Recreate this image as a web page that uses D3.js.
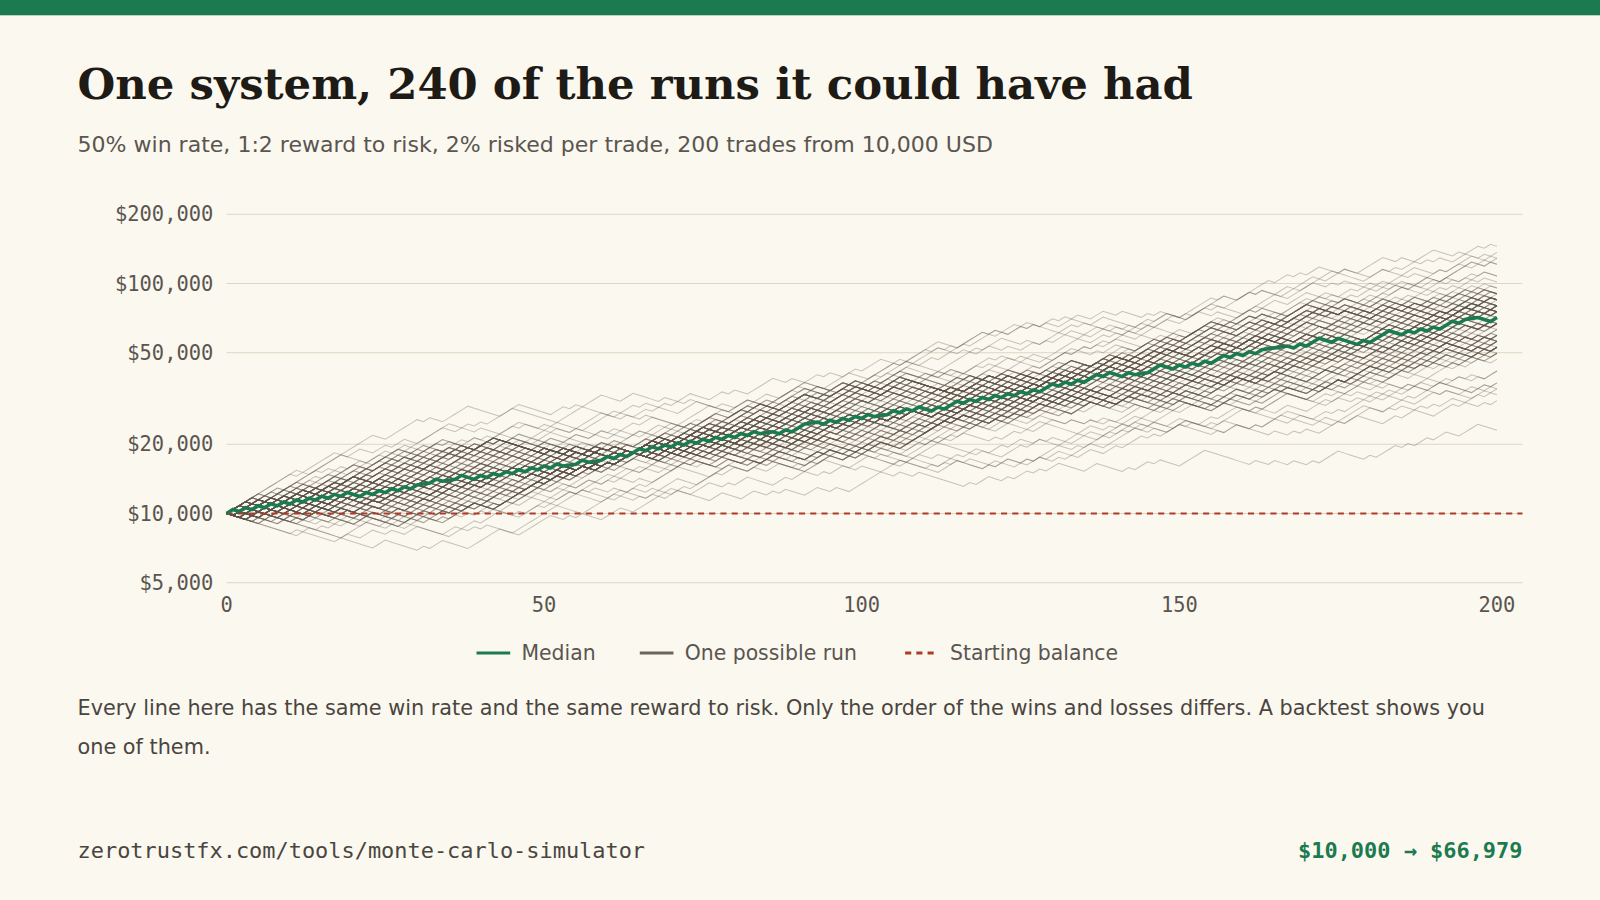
<!DOCTYPE html>
<html><head><meta charset="utf-8">
<script src="https://cdn.jsdelivr.net/npm/d3@7/dist/d3.min.js"></script>
<style>body{margin:0;background:#fbf8ef;}svg{display:block}</style>
</head><body><svg id="c" width="1600" height="900"></svg>
<script>
const title = "One system, 240 of the runs it could have had";
const subtitle = "50% win rate, 1:2 reward to risk, 2% risked per trade, 200 trades from 10,000 USD";
const note = ["Every line here has the same win rate and the same reward to risk. Only the order of the wins and losses differs. A backtest shows you", "one of them."];
const footerLeft = "zerotrustfx.com/tools/monte-carlo-simulator";
const footerRight = "$10,000 \u2192 $66,979";
const startBalance = 10000;
const winPct = 0.04, lossPct = 0.02, trades = 200;
const yTicks = [5000, 10000, 20000, 50000, 100000, 200000];
const xTicks = [0, 50, 100, 150, 200];
const legendItems = ["Median", "One possible run", "Starting balance"];
// sampled runs: 200 trades as bits (1 = win, 0 = loss), hex-encoded
const runsHexA = [
"a3f19c04e7b2d58a6c3e91f07b4d2a8e5c16f3b09d7e4a2c58","5d2e8b17c4a9f30e6b1d7a4c92e5f80b3d6a1c7e49f2b58d03","e19a4c7f02b6d83e5a1f9c4b70d2e86a3f5c1b9d47e0a2c6f8",
"7c4e1a9d3f0b6825e7a3c1d9f4b02e8a6c5d17f3b9e40a2d6c","b82f5d0c9e1a7436f2d8b5c0e9a174d3f6b2c8e05a9d1f7b34","36d9a1f4c7e02b58a9d3e6f1c04b72e5a8d91c3f6b0e47a2d5",
"f07c3a9e5d1b4268c0f7a3e9d5b14c26e8a0f3d7b9c5e12a46","4a8e2d6f1c9b3075e4a8d2c6f1b93e07a5d4c8f2e6b19a3d70","91c5f3b7e2a04d68c1f5b9e3a70d42c6f8e1b5a9d3c74e02f6",
"2e6a4c8f0d3b1957e2c6a8f4d0b31e97c5a2e6d8f4b03a19c7","c3d7f1b5a9e2408c6d3f7b1e5a9c24d08e6f3b7a1c5d92e04f","58b2e6a0d4f71c39b5e8a2d6f0c47e13b9d5a8e2f6c01d47a3",
"0d4f8b2e6a1c5937d0f4b8e2a6c13f79d5b0e4a8f2c61d93b7","a6e0c4f8b2d51973a6e0d4b8f2c57e19a3d6f0b4e8c25a71d9","7f1b5d9e3a0c4286f7b1d5e9a3c04f28b6e1d5a9f3c70e4b82",
"e4a8c2f6b0d37195e4a8d2c6f0b93a17e5c4a8d2f6b01e93c5","1b5f9d3a7e0c2648b1f5d9a3e7c02b46f8d1b5e9a3f70c2d64","d8c2a6e0f4b19375d8c2e6a0f4b37d91c5e8a2d6f0b43c79e1",
"39e7b1d5f2a84c06e3b7d1f5a29e84c0b6f3e7a1d5c92b48e0","b4f0e6a2c8d15937b4e0a6f2c8d51b97e3a4f0d6b2c85e13a9","6a2d8e4f0c7b1395a6d2e8f4c0b71a35d9e6a2f8c4e07b31d5",
"c7e3a9f1d5b02846c7a3e9d1f5b04c28e6a7f3d9b1e52c06a8","0f5b1e9d3c7a2648f0b5e1d9c3a72f46b8e0f5a1d9c37e24b6","92d6a0e4f8c15b37d2a6e0f4c8b15d73a9e2d6f0b4c81a57e3",
"e5b9d3f7a1c0246895b3d7f1a9c02e468db5e9a3f7d10c46e2","4c0a8e2d6f1b3597c4e0a8d2f6b13c59e7a4c0f8d2e61b35a9","a1d5f9b3e7c04286a1f5d9b3c7e04a62d8f1a5e9c3b70d42f6",
"5e9c3a7f1d0b4862e5c9a3f7d1b04e68c2a5f9e3d7b10a46c8","d2f6b0a4e8c13957d2b6f0a4c8e13d95b7f2d6a0e4c81b59f3","38a4e0c6f2b9d175a8e4c0f6b2d97a31e5c8a4f0d6b29e75c1",
"f9b3d7e1a5c02468f9d3b7e1c5a02f64e8b9d3f7a1e50c26d4","6d1f5b9a3e7c0248d6f1b5a9e3c07d24a8f6d1e5b9c30a72e8","b0e4c8a2f6d13579b0c4e8a2d6f13b59e7c0b4f8a2d61e95c3",
"27c5e9a1d3f4b086c7e5a9d1f3b402c68e2c7a5f9d13b4e06a","e8a2f6c0b4d95173e8f2a6c0d4b97e31a5f8e2b6c0d49a73f1","53d7b1e9f5a0c246d3b7e1f9a5c02d64b8e3d7f1a9c50b26e4",
"ca6e2b0f4d8193a7ce2a6f0b4d19c37a5e2c6b0f4a8d91e37b","19f3d5b7a0e2c648f9d3b5a7e0c21f46d8b9f3e5a7c02d64e8","8e2c4a6f0d9b1375e8c2a4f6d09b18e35a6c2e8a4d0f9b13c7",
"d5b1f7e3a9c04286d5f1b7e3c9a04d62e8b5d1f7a3e90c24b6","4f9d3b7c1a5e0826f4d9b3c7a1e50f28b6d4f9e3a7c10d52e8","b6a0e4d8c2f15379b6e0a4d8f2c15b93e7a6b0d4f8c21e59a3",
"23e7f1a5d9b0c468e3f7a1d5b90c2e46c8f3e7b1a5d90c24f6","f4c8a2e6b0d19537f4a8c2e6d0b19f53e7c4f8a2b6d01e35c9","7a1e5c9f3b0d2846a7e1c5f9b30d7a24e8c1a5f9d3b02e46f8",
"c0d4a8e2f6b93157c0a4d8e2b6f93c15d7a0c4f8e2b69d13a5","5b9f3d7e1a0c4682b5f9d3e7a10c5b62e8f9b3d7a1c40e68d2","e2a6c0f4d8b15973e2c6a0f4b8d15e97a3c2e6f0d4b81a95c7",
"98d2e6b0a4f13c57d8e2b6a0f4c1398db7e2d6a0f4c13b57e9","1c5a9e3f7d0b2468c1a5e9f3d70b1c46a8e5c9f3b7d02a64e1","a7f3b9d1e5c02846a7b3f9e1d5c02a84f6b7a3e9d1f50c28b4",
"6e0c4a8f2d1b5937e6c0a4f8d21b6e93c5a0e4c8f2b61d39a7","d3b7f1e5a9c04286d3f7b1e5c9a04d28b6f3d7e1a5c90b42e6","40e8a2c6f4d1b397e0a8c2f6d41b0e93b7a4e8c2f6d01a37c5",
"fb5d1f9e3a7c0268b5f1d9e3c7a0fb26e8d5b1f9a3e70c62d4","82c6e0a4d8f1b375c2e6a0d4f81b82c3a5e6c0f4d8b13e57a9","3d7b9f1e5a0c2486d7b9f1e5c0a24d86f3b7d9e1a5c02b48f6",
"e6a0d4c8b2f15937e6d0a4c8f2b1e953c7a6e0d4b8f21c59a3","59f3b7d1e5a0c264f9b3d7e1a5c0592ef6b9f3d7a1e50c26b4","a0c4e8d2f6b13957a0e4c8d2b6f1a93579c0a4e8f2d61b35e7",
"17e5a9c3f1d0b846e7a5c9f3d1b01748e6a5e9c3d7f10b84a2","cd1f5b9e3a7c2068d1b5f9e3c7a2cd60f8b1d5e9a3c72f06b4","6f2b8d4e0a9c1357f2d8b4e0c9a16f35a7d2b8e4f0c91a53d6",
"b8e4a0c6f2d93175e8a4c0f6d2b9b871c5e4a0d6f2c93e75a1","24a6e2d8f0c1b597a4e6d2f8c01b24e9d7a6e2f8c0d15b97c3","f1d5b9a3e7c04268d1b9f5a3c7e0f148e6d5b9e3a7f10c26d8",
"8b3f7d1e5c9a0246b3d7f1e5a9c08b24e6f3b7d1c5a90e42f8","d6e0a4c8f2b15379e6a0d4f8c2b1d65a93e0a4c8d2f61b97e3","31c9e5a7f3d0b248c9e5a7d3f0b2313c8a5e9c7f3b02d48e6a",
"e9a3f7b1d5c02864a9f3b7d1e5c0e928c6a3f7e1b5d90c42a8","4d0c8a2f6e1b3975d0a8c2e6f1b34d57e9c0a8f2d6b13e79c5","a2f6d0b4e8c13597f2d6b0e4c8a1a253e9f6d0a4b8c13f57e7",
"7e8c2a6f4d0b1359e8c2f6a4d0b17e35c9a2e6f8d4b01c53a9","c5b1d9f3e7a02468b1d9f5e3a70c5c62f8b1d9e3f7a50b26d4","16a4e8c2d6f0b937a4e8d2c6f0b9163bc7e4a8d2f6c09e37b1"
];
const runsHexB = [
"f7e3bd9f6ae7c5bf3d7eb9f2ad6e7fc3b5e9d7af6c3eb7d9f5","ffe7c3a1804102f7fed9b3e8c1002a4c7fbe9d31800c4e7fa2","3a5c96e1b74d28f0a6c3e95b17d42f8a6c09e3b5d71a4c2e96",
"7bd3e5f1a96c2eb7d5f39ae6c1b7f4d29e7a5c3fb6d1e8a4c7","e9f7d3b5a1c82e4f60b9d7c3a5e12f48b6d0c9e7a3f5b18d2c","1083c4a2e0581c6b20d4a8139e05c2a7461b0e38d5a29c0461",
"5e7f3bd9c6a1e2f74b8d3c9a6e5f17b2d4c8a3e9f6b01d7c5a","bfdf7e3b9d5f6ae7c3fb9d1e5a7f3cb9e6d2f7a5c3eb9d1f7a","d9b7f5e3c1a08642e7f9d5b3a1c0e864f2d7b9e5a3c1f0d846",
"0c1e4a3b582d6f907e1c3a5b48d2f6079e0c1a3e5b7d9f2c4a","e7c5a3f1d9b86420fe7dcba9876543210fedcba98765432f1e","eefd3b77c91a5fe30884c21a6d0b3f9e7cd5ba91fe7d3c8a62",
"ffdfbe7d3c1800214a6c9e3f7fbd5e9c1a0420c8e6f3b7d9ea","7ffb3d9e5c7fa1e3bd9f7c5e3fb1d9a7ec5f3bd1e9fa7c3d5b","dfb9e7f3d5ae9c7fb3d1fe9a5c7db3f1e9d7ac5f3eb9d1fa7c",
"e7ffd9b3e57c1a08402c6e9fbd7f3e5a98c10402a6e7fdb9f3","cbe9f7d3b5a1cfe9d7b3f5a1ce7d9b3f5a1ec9d7fb3a5e1cf7","f9e8d7c6b5a4f3e2d1c0b9a8f7e6d5c4b3a2f1e0d9c8b7a6f5",
"dc7b9f3e5a1d7c9b3f5e1a7d9c3b5f1e7a9d3c5b1f7e9a3d5c","fbe7d3c9a5f1eb7d3c9a5f1e7bd3c9a5fe17bd3c9a5f1e7bd3","6b8d0f2a4c6e8b0d2f4a6c8e0b2d4f6a8c0e2b4d6f8a0c2e4b"
];
</script>
<script>
const svg = d3.select("#c");
const root = svg.append("g").attr("transform", "scale(" + (1600 / 1568) + ")");
const toBits = h => {
  const bits = [];
  for (const ch of h) { const v = parseInt(ch, 16); for (let k = 3; k >= 0; k--) bits.push((v >> k) & 1); }
  while (bits.length < trades) bits.push(...bits.slice(0, trades - bits.length));
  return bits.slice(0, trades);
};
const toRun = bits => {
  const vals = [startBalance]; let b = startBalance;
  bits.forEach(w => { b *= w ? 1 + winPct : 1 - lossPct; vals.push(b); });
  return vals;
};
const bitRuns = [];
runsHexA.forEach((h, i) => { const b = toBits(h); bitRuns.push(b); if (i % 2 === 0) bitRuns.push(b.map(v => 1 - v)); });
runsHexB.forEach(h => { const b = toBits(h); bitRuns.push(b); bitRuns.push(b.map(v => 1 - v)); });
const runs = bitRuns.map(toRun).filter(r => r[trades] > 22000 && r[trades] < 195000);
const median = d3.range(trades + 1).map(i => d3.median(runs, r => r[i]));

root.append("rect").attr("width", 1568).attr("height", 900).attr("fill", "#fbf8ef");
root.append("rect").attr("width", 1568).attr("height", 15).attr("fill", "#1b7a4f");
root.append("text").attr("x", 76).attr("y", 97).text(title)
  .attr("font-family", "'DejaVu Serif', serif").attr("font-weight", "bold").attr("font-size", 42.5).attr("fill", "#1e1b17");
root.append("text").attr("x", 76).attr("y", 149).text(subtitle)
  .attr("font-family", "'DejaVu Sans', sans-serif").attr("font-size", 21.6).attr("fill", "#5a5550");

const x = d3.scaleLinear().domain([0, 200]).range([222, 1467]);
const y = d3.scaleLog().domain([5000, 200000]).range([571, 210]);
const fmt = d3.format("$,");

const g = root.append("g");
yTicks.forEach(t => {
  g.append("line").attr("x1", 222).attr("x2", 1492).attr("y1", y(t)).attr("y2", y(t))
    .attr("stroke", "#dcd6c4").attr("stroke-width", 1);
  g.append("text").attr("x", 209).attr("y", y(t) + 7).attr("text-anchor", "end").text(fmt(t))
    .attr("font-family", "'DejaVu Sans Mono', monospace").attr("font-size", 20).attr("fill", "#5a5550");
});
xTicks.forEach(t => {
  g.append("text").attr("x", x(t)).attr("y", 600).attr("text-anchor", "middle").text(t)
    .attr("font-family", "'DejaVu Sans Mono', monospace").attr("font-size", 20).attr("fill", "#5a5550");
});

const line = d3.line().x((d, i) => x(i)).y(d => y(d));
g.append("g").selectAll("path").data(runs).join("path").attr("d", line)
  .attr("fill", "none").attr("stroke", "#5c544a").attr("stroke-opacity", 0.32).attr("stroke-width", 1);
g.append("line").attr("x1", 222).attr("x2", 1492).attr("y1", y(startBalance)).attr("y2", y(startBalance))
  .attr("stroke", "#b03a2a").attr("stroke-width", 2).attr("stroke-dasharray", "6,5");
g.append("path").datum(median).attr("d", line).attr("fill", "none")
  .attr("stroke", "#1b7a4f").attr("stroke-width", 3.5);

const lg = [
  {x: 467, t: legendItems[0], c: "#1b7a4f", d: null},
  {x: 627, t: legendItems[1], c: "#6b655d", d: null},
  {x: 887, t: legendItems[2], c: "#b03a2a", d: "6,5"}
];
lg.forEach(o => {
  root.append("line").attr("x1", o.x).attr("x2", o.x + 33).attr("y1", 640).attr("y2", 640)
    .attr("stroke", o.c).attr("stroke-width", 3).attr("stroke-dasharray", o.d);
  root.append("text").attr("x", o.x + 44).attr("y", 647).text(o.t)
    .attr("font-family", "'DejaVu Sans', sans-serif").attr("font-size", 20).attr("fill", "#5a5550");
});

note.forEach((n, i) => root.append("text").attr("x", 76).attr("y", 701 + i * 38).text(n)
  .attr("font-family", "'DejaVu Sans', sans-serif").attr("font-size", 20.4).attr("fill", "#4a4540"));

root.append("text").attr("x", 76).attr("y", 841).text(footerLeft)
  .attr("font-family", "'DejaVu Sans Mono', monospace").attr("font-size", 21.5).attr("fill", "#4a4540");
root.append("text").attr("x", 1492).attr("y", 841).attr("text-anchor", "end").text(footerRight)
  .attr("font-family", "'DejaVu Sans Mono', monospace").attr("font-weight", "bold").attr("font-size", 21.5).attr("fill", "#1b7a4f");
</script></body></html>
